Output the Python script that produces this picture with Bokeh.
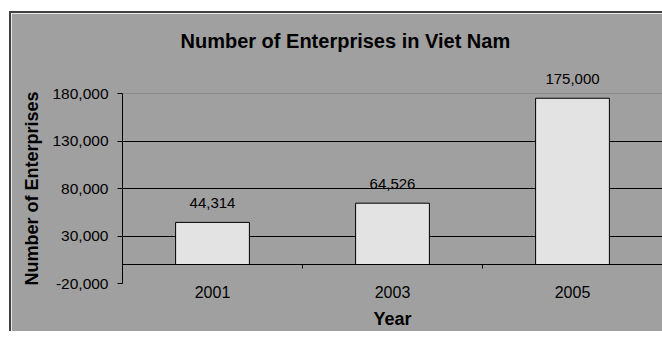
from bokeh.plotting import figure
from bokeh.models import (Range1d, FixedTicker, LinearAxis, NumeralTickFormatter,
                          ColumnDataSource, LabelSet, Grid, Title)
from bokeh.core.properties import value
from bokeh.embed import file_html
from bokeh.resources import INLINE
import numpy as np

# ---- data ----
years = ["2001", "2003", "2005"]
enterprises = [44314, 64526, 175000]
value_labels = ["44,314", "64,526", "175,000"]
y_ticks = [-20000, 30000, 80000, 130000, 180000]

FONT = "Liberation Sans"
BG = "#a0a0a0"

centers = np.arange(len(years)) + 0.5
boundaries = list(np.arange(1, len(years)))

# extra headroom above the plot-area border (for the value label)
PX_PER_UNIT = 190 / (y_ticks[-1] - y_ticks[0])
EXTRA_PX = 26
y_top = y_ticks[-1] + EXTRA_PX / PX_PER_UNIT

src = ColumnDataSource(dict(x=centers, top=enterprises, lab=value_labels))

p = figure(width=651, height=330, margin=(11, 0, 0, 9),
           frame_width=540, frame_height=190 + EXTRA_PX,
           min_border_left=111, min_border_top=54, min_border_right=0, min_border_bottom=0,
           x_range=Range1d(0, len(years)), y_range=Range1d(y_ticks[0], y_top),
           output_backend="svg", toolbar_location=None,
           background_fill_color=BG, border_fill_color=BG,
           x_axis_type=None,
           styles={"border-left": "2px solid #404040", "border-top": "2px solid #404040"})
p.outline_line_color = BG
p.outline_line_width = 2

# title
p.title.text = "Number of Enterprises in Viet Nam"
p.title.text_font = FONT
p.title.text_font_size = "20px"
p.title.text_font_style = "bold"
p.title.text_color = "#000000"
p.title.align = "left"
p.title.vertical_align = "top"
p.title.text_line_height = 0.7
p.title.offset = 58
p.title.standoff = 28

# bars
p.vbar(x="x", top="top", bottom=0, width=0.41, source=src,
       fill_color="#e3e3e3", line_color="#000000", line_width=1)

labels = LabelSet(x="x", y="top", text="lab", source=src, text_align="center",
                  text_baseline="bottom", y_offset=14, text_font=value(FONT),
                  text_font_size=value("15px"), text_color="#000000")
p.add_layout(labels)

# y axis
yax = p.yaxis[0]
yax.ticker = FixedTicker(ticks=y_ticks)
yax.bounds = (y_ticks[0], y_ticks[-1])
yax.formatter = NumeralTickFormatter(format="0,0")
yax.axis_line_color = "#000000"
yax.major_tick_line_color = "#000000"
yax.major_tick_in = 0
yax.major_tick_out = 5
yax.minor_tick_line_color = None
yax.major_label_standoff = 9
yax.major_label_text_font = FONT
yax.major_label_text_font_size = "15.5px"
yax.major_label_text_color = "#000000"

# y axis title, centred on the plot-area border rather than the whole frame
ytitle = Title(text="Number of Enterprises", align="left", offset=-2, standoff=16,
               text_font=FONT, text_font_size="18px", text_font_style="bold",
               text_color="#000000")
p.add_layout(ytitle, "left")

# grid
p.ygrid.ticker = FixedTicker(ticks=y_ticks[1:-1])
p.ygrid.grid_line_color = "#000000"
p.ygrid.grid_line_width = 1
border_grid = Grid(dimension=1, ticker=FixedTicker(ticks=[y_ticks[0], y_ticks[-1]]),
                   grid_line_color="#8a8a8a", grid_line_width=1)
p.add_layout(border_grid)

# category axis (labels at bottom)
xax = LinearAxis(ticker=FixedTicker(ticks=list(centers)),
                 major_label_overrides={float(c): y for c, y in zip(centers, years)})
xax.axis_line_color = None
xax.major_tick_line_color = None
xax.minor_tick_line_color = None
xax.major_label_standoff = -4
xax.major_label_text_font = FONT
xax.major_label_text_font_size = "16px"
xax.major_label_text_color = "#000000"
xax.axis_label = "Year"
xax.axis_label_text_font = FONT
xax.axis_label_text_font_size = "18px"
xax.axis_label_text_font_style = "bold"
xax.axis_label_text_color = "#000000"
xax.axis_label_standoff = 8
p.add_layout(xax, "below")

# zero axis line with ticks between categories
zax = LinearAxis(fixed_location=0, ticker=FixedTicker(ticks=[float(b) for b in boundaries]),
                 major_label_overrides={float(b): "" for b in boundaries})
zax.axis_line_color = "#000000"
zax.major_tick_line_color = "#000000"
zax.major_tick_in = 0
zax.major_tick_out = 4
zax.minor_tick_line_color = None
zax.major_label_text_font_size = "1px"
p.add_layout(zax, "below")

open("out.html", "w").write(file_html(p, INLINE))
